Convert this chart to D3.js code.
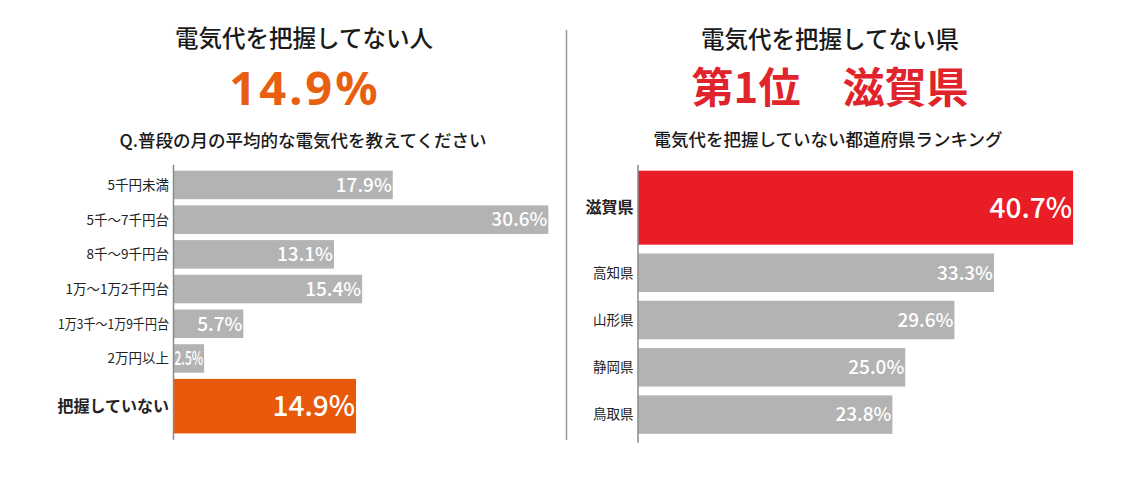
<!DOCTYPE html>
<html>
<head>
<meta charset="utf-8">
<script src="https://cdn.jsdelivr.net/npm/d3@7"></script>
<style>
  html, body { margin: 0; padding: 0; background: #fff; }
  svg text { font-family: "Noto Sans CJK JP", "Noto Sans", sans-serif; }
</style>
</head>
<body>
<div id="chart"></div>
<script>
// left panel: monthly electricity bill
const billCategories = ["5千円未満", "5千〜7千円台", "8千〜9千円台", "1万〜1万2千円台", "1万3千〜1万9千円台", "2万円以上", "把握していない"];
const billValues = [17.9, 30.6, 13.1, 15.4, 5.7, 2.5, 14.9];
const billHighlight = "把握していない";

// right panel: prefecture ranking
const prefCategories = ["滋賀県", "高知県", "山形県", "静岡県", "鳥取県"];
const prefValues = [40.7, 33.3, 29.6, 25.0, 23.8];
const prefHighlight = "滋賀県";

const W = 1133, H = 498;
const GREY = "#b3b3b3";
const ORANGE = "#e8590c";
const RED = "#e91d25";

const svg = d3.select("#chart").append("svg")
    .attr("width", W)
    .attr("height", H);

function drawPanel(opts) {
    const { cats, vals, highlight, color, x0, xMax, pxPerUnit, top, step, gap, labelSize } = opts;

    const data = cats.map((c, i) => ({ cat: c, val: vals[i], hi: c === highlight }));

    // highlighted row takes a taller slot
    let acc = 0;
    data.forEach(d => {
        d.w = d.hi ? 1.75 : 1;
        d.off = acc;
        acc += d.w;
    });

    const x = d3.scaleLinear()
        .domain([0, xMax])
        .range([x0, x0 + xMax * pxPerUnit]);

    const y = d3.scaleLinear()
        .domain([0, acc])
        .range([top, top + acc * step]);

    const g = svg.append("g");

    g.selectAll("rect")
        .data(data)
        .join("rect")
        .attr("x", x(0))
        .attr("y", d => y(d.off))
        .attr("width", d => x(d.val) - x(0))
        .attr("height", d => y(d.off + d.w) - y(d.off) - gap)
        .attr("fill", d => d.hi ? color : GREY);

    // axis line
    g.append("line")
        .attr("x1", x(0)).attr("x2", x(0))
        .attr("y1", top - 6).attr("y2", y(acc))
        .attr("stroke", "#8a8a8a")
        .attr("stroke-width", 1.5);

    const mid = d => (y(d.off) + y(d.off + d.w) - gap) / 2;

    // category labels
    g.selectAll(".cat")
        .data(data)
        .join("text")
        .attr("class", "cat")
        .attr("x", x(0) - 4.5)
        .attr("y", mid)
        .attr("dy", "0.36em")
        .attr("text-anchor", "end")
        .attr("fill", "#222")
        .style("font-size", d => d.hi ? "16px" : labelSize + "px")
        .style("font-weight", d => d.hi ? 700 : 400)
        .text(d => d.cat)
        .each(function () {
            // squeeze the very long label like the original does
            const len = this.getComputedTextLength();
            if (len > 112) {
                d3.select(this).attr("textLength", 111).attr("lengthAdjust", "spacingAndGlyphs");
            }
        });

    // value labels inside bar ends
    g.selectAll(".val")
        .data(data)
        .join("text")
        .attr("class", "val")
        .attr("x", d => x(d.val) - 1)
        .attr("y", mid)
        .attr("dy", "0.36em")
        .attr("text-anchor", "end")
        .attr("fill", "#fff")
        .style("font-size", d => d.hi ? "28px" : "19px")
        .style("font-weight", 500)
        .text(d => d.val.toFixed(1) + "%")
        .each(function (d) {
            const room = x(d.val) - x(0) - 2;
            const len = this.getComputedTextLength();
            if (len > room) {
                d3.select(this).attr("textLength", room).attr("lengthAdjust", "spacingAndGlyphs");
            }
        });
}

drawPanel({
    cats: billCategories, vals: billValues, highlight: billHighlight, color: ORANGE,
    x0: 173.5, xMax: 40, pxPerUnit: 12.25,
    top: 170.7, step: 34.7, gap: 6.2, labelSize: 13.5
});

drawPanel({
    cats: prefCategories, vals: prefValues, highlight: prefHighlight, color: RED,
    x0: 638, xMax: 50, pxPerUnit: 10.69,
    top: 170.7, step: 47.3, gap: 8.8, labelSize: 13.5
});

// divider
svg.append("line")
    .attr("x1", 566.5).attr("x2", 566.5)
    .attr("y1", 30).attr("y2", 440)
    .attr("stroke", "#9a9a9a")
    .attr("stroke-width", 1.5);

// headings
function heading(cx, cy, txt, size, weight, fill, spacing, family) {
    const t = svg.append("text")
        .attr("x", cx)
        .attr("y", cy)
        .attr("dy", "0.36em")
        .attr("text-anchor", "middle")
        .attr("fill", fill)
        .style("font-size", size + "px")
        .style("font-weight", weight)
        .style("letter-spacing", (spacing || 0) + "px")
        .text(txt);
    if (family) t.style("font-family", family);
}

heading(304, 39, "電気代を把握してない人", 23.5, 500, "#1a1a1a");
heading(305, 88, "14.9%", 47, 700, "#e8600f", 3, "'Noto Sans', sans-serif");
heading(303, 141, "Q.普段の月の平均的な電気代を教えてください", 17.5, 500, "#1a1a1a");

heading(830, 40, "電気代を把握してない県", 23.5, 500, "#1a1a1a");
heading(830, 88, "第1位　滋賀県", 42, 700, "#e1232b");
heading(828, 140, "電気代を把握していない都道府県ランキング", 17.5, 500, "#1a1a1a");
</script>
</body>
</html>
